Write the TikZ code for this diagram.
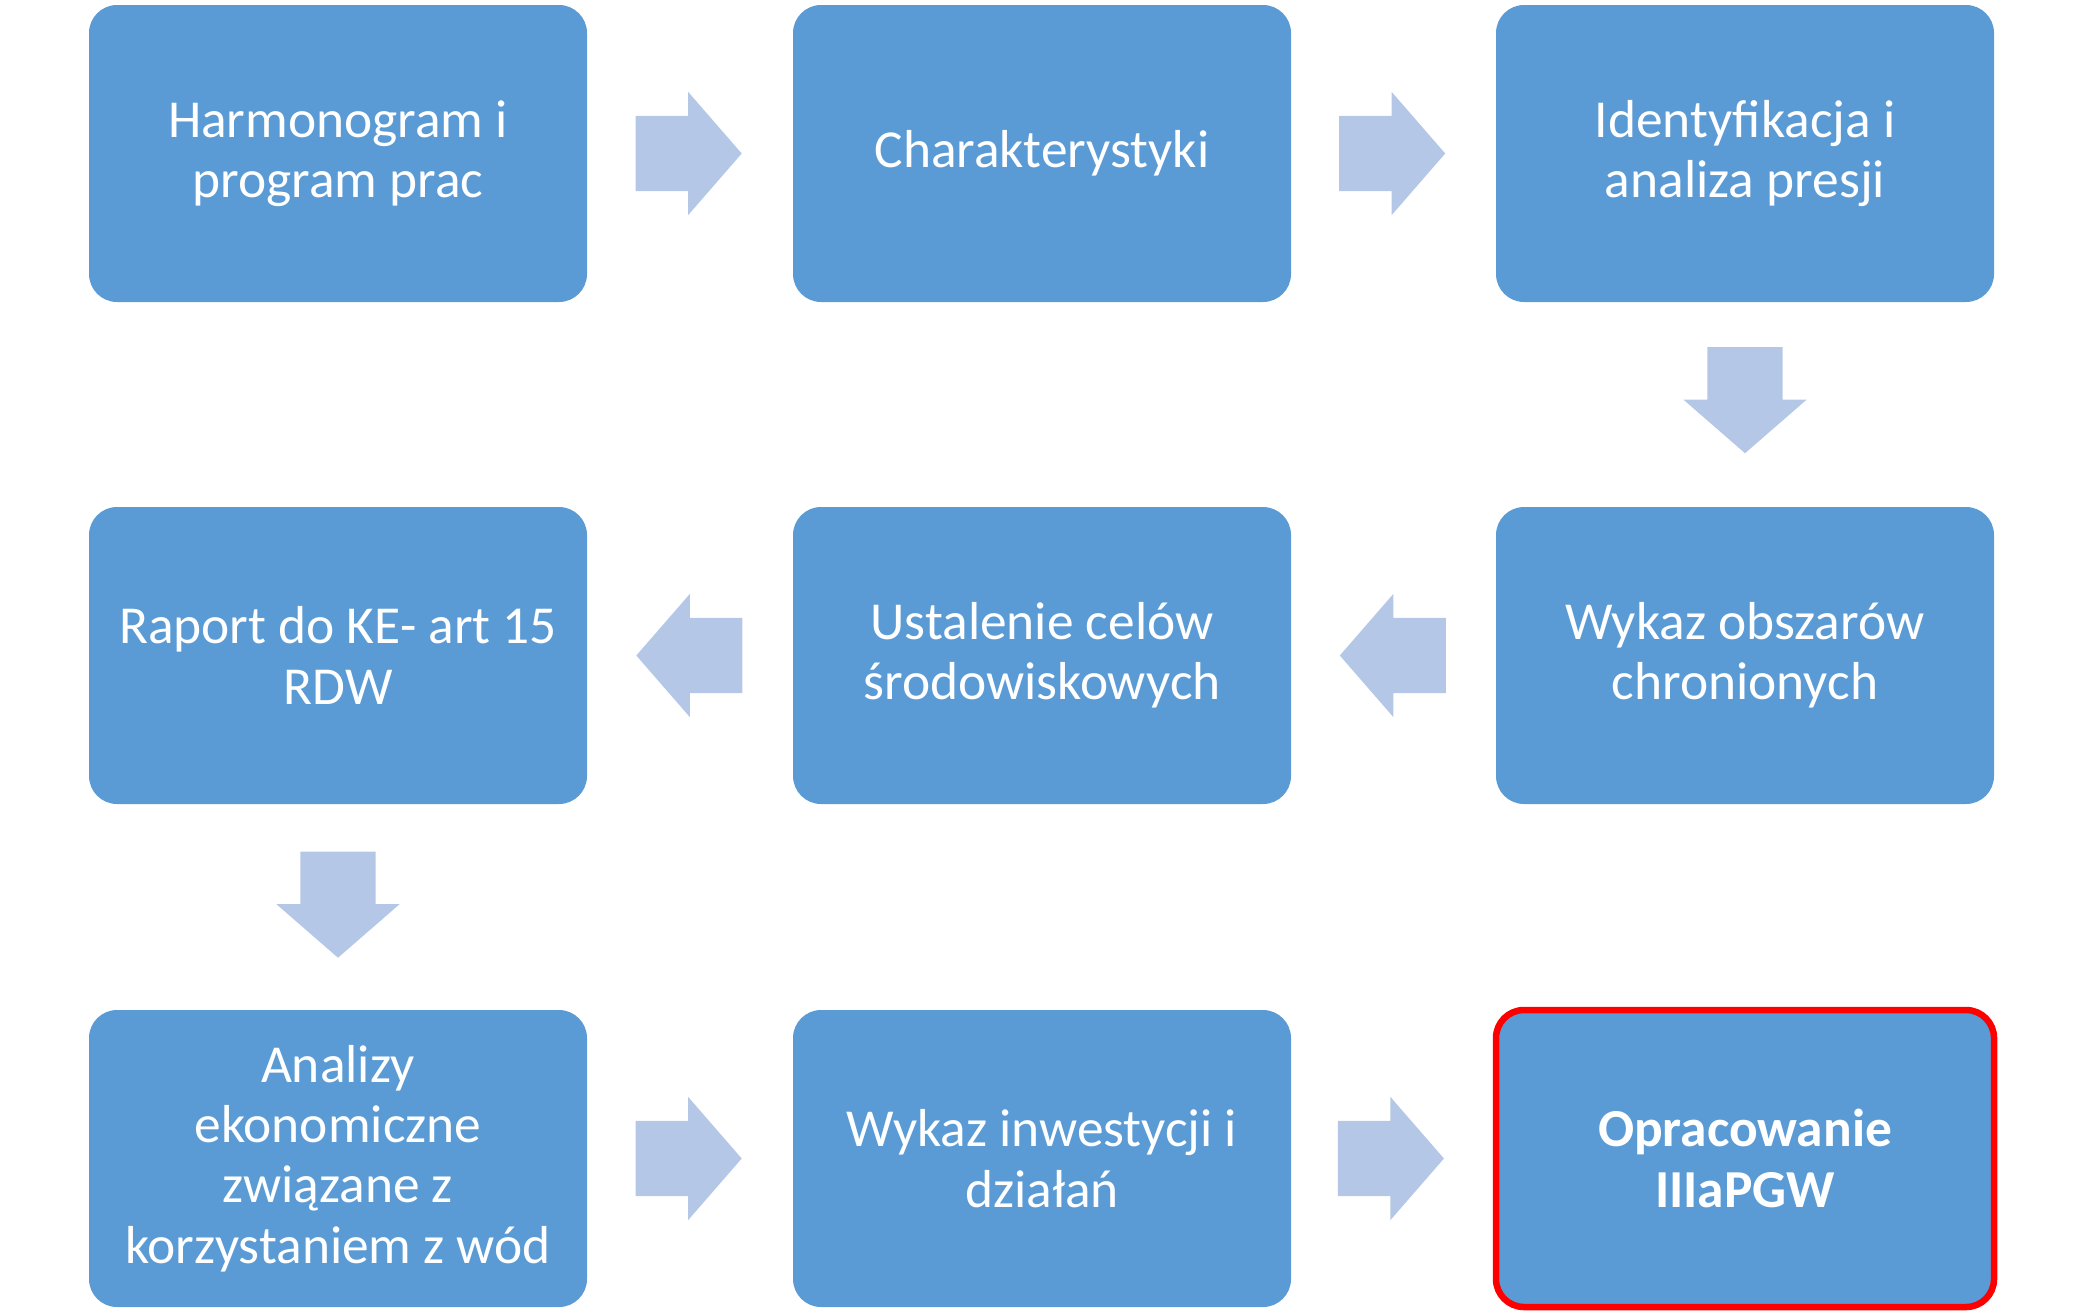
\documentclass[tikz,border=0pt]{standalone}
\usepackage{fontspec}
\setmainfont{Carlito}
\usetikzlibrary{shapes.arrows,calc}
\definecolor{boxblue}{HTML}{5B9BD5}
\definecolor{arrowblue}{HTML}{B4C7E7}
\definecolor{markred}{HTML}{FF0000}

\tikzset{
	stage/.style={rectangle, rounded corners=0.28cm, fill=boxblue, text=white, inner sep=0pt, minimum width=4.98cm, minimum height=2.97cm, align=center, font=\fontsize{15.2}{17.2}\selectfont},
	blockarrow/.style={single arrow, fill=arrowblue, anchor=tail, inner xsep=0pt, inner ysep=0.37cm, minimum width=1.22cm, minimum height=1.06cm, single arrow head extend=0.24cm, single arrow tip angle=98}
}

\begin{document}
\begin{tikzpicture}
	\useasboundingbox (0, 0) rectangle (20.82, -13.13);
	\node [stage] (harmonogram) at (3.38, -1.535) {Harmonogram i\\program prac};
	\node [stage] (charakterystyki) at (10.42, -1.535) {Charakterystyki};
	\node [stage] (presje) at (17.45, -1.535) {Identyfikacja i\\analiza presji};
	\node [stage] (obszary) at (17.45, -6.555) {Wykaz obszarów\\chronionych};
	\node [stage] (cele) at (10.42, -6.555) {Ustalenie celów\\środowiskowych};
	\node [stage] (raport) at (3.38, -6.555) {Raport do KE- art 15\\RDW};
	\node [stage] (analizy) at (3.38, -11.585) {Analizy\\ekonomiczne\\związane z\\korzystaniem z wód};
	\node [stage] (inwestycje) at (10.42, -11.585) {Wykaz inwestycji i\\działań};
	\node [stage, draw=markred, line width=0.065cm] (pgw) at (17.45, -11.585) {\textbf{Opracowanie}\\\textbf{IIIaPGW}};

	\node [blockarrow] (a1) at ($(harmonogram.east)!0.5!(charakterystyki.west) + (-0.55, 0)$) {};
	\node [blockarrow] (a2) at ($(charakterystyki.east)!0.5!(presje.west) + (-0.55, 0)$) {};
	\node [blockarrow, rotate=-90] (a3) at ($(presje.south)!0.5!(obszary.north) + (0, 0.58)$) {};
	\node [blockarrow, rotate=180] (a4) at ($(obszary.west)!0.5!(cele.east) + (0.53, 0)$) {};
	\node [blockarrow, rotate=180] (a5) at ($(cele.west)!0.5!(raport.east) + (0.53, 0)$) {};
	\node [blockarrow, rotate=-90] (a6) at ($(raport.south)!0.5!(analizy.north) + (0, 0.56)$) {};
	\node [blockarrow] (a7) at ($(analizy.east)!0.5!(inwestycje.west) + (-0.55, 0)$) {};
	\node [blockarrow] (a8) at ($(inwestycje.east)!0.5!(pgw.west) + (-0.55, 0)$) {};
\end{tikzpicture}
\end{document}
